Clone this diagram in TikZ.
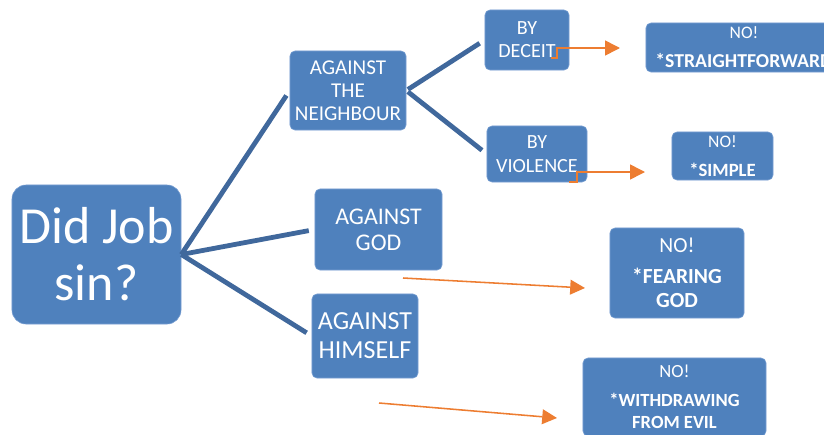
\documentclass[tikz,border=0pt]{standalone}
\usepackage{fontspec}
\setmainfont{Carlito}
\usepackage{tikz}
\usetikzlibrary{arrows.meta, positioning, calc}
\definecolor{boxblue}{RGB}{79, 129, 189}
\definecolor{boxedge}{RGB}{120, 158, 210}
\definecolor{linkblue}{RGB}{64, 104, 156}
\definecolor{arroworange}{RGB}{237, 125, 49}

\begin{document}
\begin{tikzpicture}[
  x=0.025cm, y=-0.025cm,
  qbox/.style={rectangle, rounded corners=3.5pt, draw=boxedge, line width=0.4pt, fill=boxblue,
               text=white, align=center, inner sep=0pt},
  nobox/.style={qbox, font=\fontsize{12.5}{17}\selectfont},
  branch/.style={line width=3.4pt, color=linkblue, shorten >=0.15cm},
  arrow/.style={-{Triangle[length=10.5pt, width=10.5pt]}, line width=1.1pt, color=arroworange}
]
\useasboundingbox (0,0) rectangle (824,435);

% question and the three ways of sinning
\node[qbox, rounded corners=10pt, minimum width=4.225cm, minimum height=3.475cm,
      font=\fontsize{37}{40.5}\selectfont] (main) at (96.5,254.5) {Did Job\\sin?};
\node[qbox, minimum width=2.9cm, minimum height=1.975cm, font=\fontsize{15}{16.4}\selectfont]
      (neighbour) at (348,90.5) {AGAINST\\THE\\NEIGHBOUR};
\node[qbox, minimum width=3.175cm, minimum height=2.025cm, font=\fontsize{17}{18.5}\selectfont]
      (god) at (378.5,229.5) {AGAINST\\GOD};
\node[qbox, minimum width=2.65cm, minimum height=2.1cm, font=\fontsize{18.5}{20.6}\selectfont]
      (himself) at (365,336) {AGAINST\\HIMSELF};
\node[qbox, minimum width=2.1cm, minimum height=1.5cm, font=\fontsize{14.3}{16.5}\selectfont]
      (deceit) at (527,40) {BY\\DECEIT};
\node[qbox, minimum width=2.5cm, minimum height=1.4cm, font=\fontsize{14.3}{16.8}\selectfont]
      (violence) at (537,154) {BY\\VIOLENCE};

% answers
\node[nobox, minimum width=4.9cm, minimum height=1.225cm] (straight) at (744,47.5)
      {NO!\\[3.5pt]\textbf{\fontsize{14}{17}\selectfont *STRAIGHTFORWARD}};
\node[nobox, minimum width=2.525cm, minimum height=1.2cm] (simple) at (722.5,156)
      {NO!\\[3.5pt]\textbf{\fontsize{13.3}{17}\selectfont *SIMPLE}};
\node[nobox, minimum width=3.35cm, minimum height=2.25cm, font=\fontsize{15.3}{17}\selectfont]
      (fearing) at (677,273) {NO!\\[5pt]\textbf{*FEARING}\\\textbf{GOD}};
\node[nobox, minimum width=4.575cm, minimum height=1.95cm, font=\fontsize{13.2}{16}\selectfont]
      (withdraw) at (674.5,397) {NO!\\[4.5pt]\textbf{*WITHDRAWING}\\\textbf{FROM EVIL}};

\draw[branch] (main.east) -- (neighbour.west);
\draw[branch] (main.east) -- (god.west);
\draw[branch] (main.east) -- (himself.west);
\draw[branch, shorten <=0.05cm] (neighbour.east) -- (deceit.west);
\draw[branch, shorten <=0.05cm] (neighbour.east) -- (violence.west);

% orange pointers
\coordinate (deceitout) at (551,58);
\coordinate (deceittip) at (620,48);
\coordinate (violenceout) at (569,182);
\coordinate (violencetip) at (645,172);
\coordinate (godout) at (403,278);
\coordinate (godtip) at (585,288);
\coordinate (himselfout) at (379,403);
\coordinate (himselftip) at (557,418);

\draw[arrow] (deceitout) -| ++(6,-10) -- (deceittip);
\draw[arrow] (violenceout) -| ++(8,-10) -- (violencetip);
\draw[arrow] (godout) -- (godtip);
\draw[arrow] (himselfout) -- (himselftip);

\end{tikzpicture}
\end{document}
